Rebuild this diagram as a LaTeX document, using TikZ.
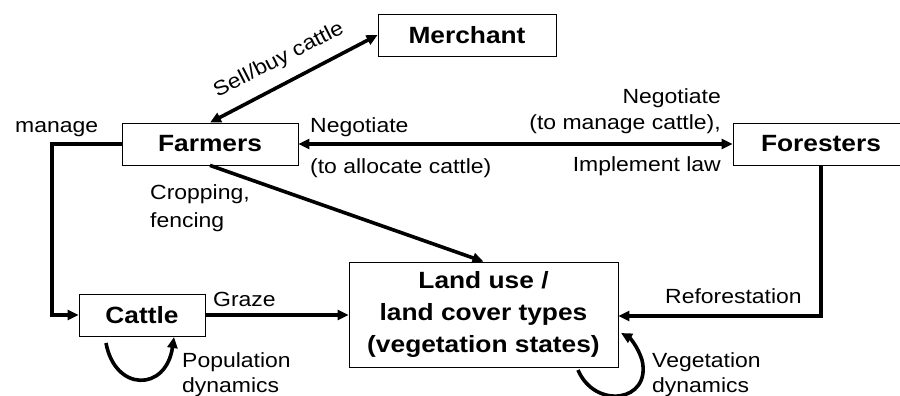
\documentclass[tikz,border=0pt]{standalone}
\usepackage{fontspec}
\setmainfont{Liberation Sans}[FakeStretch=1.12]
\usetikzlibrary{arrows.meta,calc}
\begin{document}
\begin{tikzpicture}[x=1pt,y=-1pt,
  box/.style={draw,line width=0.8pt,inner sep=0pt,font=\fontsize{23.5}{32}\selectfont\bfseries,align=center},
  lbl/.style={inner sep=0pt,font=\fontsize{20.5}{26}\selectfont},
  conn/.style={line width=3.6pt},
  tip/.style={-{Triangle[length=11pt,width=10pt]}},
  tips/.style={{Triangle[length=11pt,width=10pt]}-{Triangle[length=11pt,width=10pt]}}]
\useasboundingbox (0,0) rectangle (900,396);
\node[box,minimum width=178pt,minimum height=42pt] (merchant) at (467,35) {Merchant};
\node[box,minimum width=176pt,minimum height=42pt] (farmers) at (210,144) {Farmers};
\node[box,minimum width=176pt,minimum height=42pt] (foresters) at (821,144) {Foresters};
\node[box,minimum width=126pt,minimum height=42pt] (cattle) at (142,315) {Cattle};
\node[box,minimum width=269pt,minimum height=105pt] (land) at (483.5,314.5) {Land use /\\land cover types\\(vegetation states)};
\coordinate (mg) at (52,144);
\coordinate (fd) at (821,316);
\coordinate (cl1) at (106,343);
\coordinate (cl2) at (174,337);
\coordinate (ll1) at (578,370);
\coordinate (ll2) at (621,333);
% connectors
\draw[conn,tips] (farmers.north) -- (merchant.west);
\draw[conn,tips] (farmers.east) -- (foresters.west);
\draw[conn,tip] (farmers.west) -- (mg) |- (cattle.west);
\draw[conn,tip] (farmers.south) -- (land.north);
\draw[conn,tip] (cattle.east) -- (land.west |- cattle.east);
\draw[conn,tip] (foresters.south -| fd) -- (fd) -- (land.east |- fd);
\draw[conn,tip] (cl1) .. controls (115,392) and (166,392) .. (cl2);
\draw[conn,tip] (ll1) .. controls (595,410) and (652,402) .. (642,360) .. controls (638,347) and (630,338) .. (ll2);
% labels
\node[lbl,rotate=27] (sb) at (279,60) {Sell/buy cattle};
\node[lbl,anchor=base west] (mn) at (15,132) {manage};
\node[lbl,anchor=base west] (ng1) at (310,132) {Negotiate};
\node[lbl,anchor=base west] (ng2) at (310,173) {(to allocate cattle)};
\node[lbl,anchor=base east] (ng3) at (721,103) {Negotiate};
\node[lbl,anchor=base east] (ng4) at (721,129) {(to manage cattle),};
\node[lbl,anchor=base east] (ng5) at (721,171) {Implement law};
\node[lbl,anchor=base west] (cr1) at (150,199) {Cropping,};
\node[lbl,anchor=base west] (cr2) at (150,227) {fencing};
\node[lbl,anchor=base west] (gz) at (213,306) {Graze};
\node[lbl,anchor=base west] (pd1) at (182,367) {Population};
\node[lbl,anchor=base west] (pd2) at (182,392) {dynamics};
\node[lbl,anchor=base west] (rf) at (665,303) {Reforestation};
\node[lbl,anchor=base west] (vd1) at (652,367) {Vegetation};
\node[lbl,anchor=base west] (vd2) at (652,392) {dynamics};
\end{tikzpicture}
\end{document}
